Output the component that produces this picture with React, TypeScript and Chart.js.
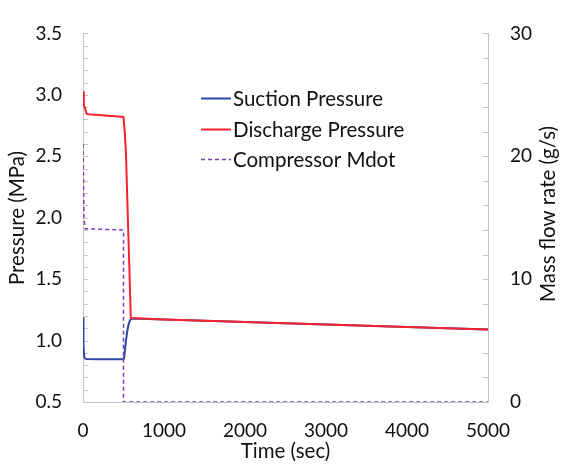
import React, { useEffect, useRef } from 'react';
import { Chart, registerables } from 'chart.js';

Chart.register(...registerables);

// ---- data ----
const suctionTime = [0, 6, 16, 40, 200, 500, 510, 528, 545, 560, 580, 600, 1000, 2000, 3000, 4000, 5000];
const suctionPressure = [1.19, 0.95, 0.86, 0.85, 0.848, 0.848, 0.87, 0.985, 1.07, 1.125, 1.165, 1.18, 1.172, 1.151, 1.131, 1.11, 1.09];

const dischargeTime = [0, 10, 45, 100, 200, 300, 400, 500, 515, 530, 560, 590, 600, 1000, 2000, 3000, 4000, 5000];
const dischargePressure = [3.03, 2.92, 2.845, 2.84, 2.835, 2.83, 2.825, 2.82, 2.7, 2.53, 1.86, 1.19, 1.183, 1.172, 1.151, 1.131, 1.11, 1.09];

const mdotTime = [0, 12, 25, 500, 500, 5000];
const mdotValue = [21, 15, 14.1, 14.0, 0, 0];

const seriesNames = ['Suction Pressure', 'Discharge Pressure', 'Compressor Mdot'];
const xTitle = 'Time (sec)';
const yTitle = 'Pressure (MPa)';
const y2Title = 'Mass flow rate (g/s)';

const FONT = 'Lato';
const TICK_SIZE = 19;
const TEXT_SIZE = 20.5;
const TEXT = '#111111';
const AXIS = '#c4c4c4';

const decorPlugin = {
  id: 'decor',
  beforeDatasetsDraw(chart: any) {
    const { ctx, chartArea, scales } = chart;
    const y = scales.y;
    const y2 = scales.y2;
    ctx.save();
    ctx.strokeStyle = AXIS;
    ctx.lineWidth = 1;
    ctx.beginPath();
    for (let v = 5; v <= 35; v++) {
      const py = Math.round(y.getPixelForValue(v / 10)) + 0.5;
      ctx.moveTo(chartArea.left, py);
      ctx.lineTo(chartArea.left + 5, py);
    }
    for (let v = 0; v <= 30; v += 2) {
      const py = Math.round(y2.getPixelForValue(v)) + 0.5;
      ctx.moveTo(chartArea.right, py);
      ctx.lineTo(chartArea.right - 5, py);
    }
    ctx.stroke();
    ctx.restore();
  },
  afterDraw(chart: any) {
    const { ctx } = chart;
    ctx.save();
    ctx.font = `${TEXT_SIZE}px ${FONT}`;
    ctx.fillStyle = TEXT;
    ctx.textBaseline = 'middle';
    // legend
    const rows = [98, 129, 159];
    chart.data.datasets.forEach((ds: any, i: number) => {
      const ry = rows[i];
      ctx.save();
      ctx.strokeStyle = ds.borderColor;
      ctx.lineWidth = ds.borderDash ? 1.5 : 2;
      ctx.setLineDash(ds.borderDash || []);
      ctx.beginPath();
      ctx.moveTo(201, ry + 0.5);
      ctx.lineTo(231, ry + 0.5);
      ctx.stroke();
      ctx.restore();
      ctx.textAlign = 'left';
      ctx.fillText(ds.label, 233, ry + 1);
    });
    // axis titles (both read bottom-to-top)
    ctx.textAlign = 'center';
    ctx.save();
    ctx.translate(17, 218);
    ctx.rotate(-Math.PI / 2);
    ctx.fillText(yTitle, 0, 0);
    ctx.restore();
    ctx.save();
    ctx.translate(548, 214);
    ctx.rotate(-Math.PI / 2);
    ctx.fillText(y2Title, 0, 0);
    ctx.restore();
    ctx.restore();
  },
};

export default function App() {
  const ref = useRef<HTMLCanvasElement>(null);
  useEffect(() => {
    if (!ref.current) return;
    const font = { family: FONT, size: TICK_SIZE };
    const chart = new Chart(ref.current, {
      type: 'line',
      data: {
        datasets: [
          {
            label: seriesNames[0],
            data: suctionTime.map((t, i) => ({ x: t, y: suctionPressure[i] })),
            borderColor: '#2f45a5',
            borderWidth: 2,
            pointRadius: 0,
            yAxisID: 'y',
            order: 3,
          },
          {
            label: seriesNames[1],
            data: dischargeTime.map((t, i) => ({ x: t, y: dischargePressure[i] })),
            borderColor: '#f5222d',
            borderWidth: 2,
            pointRadius: 0,
            yAxisID: 'y',
            order: 2,
          },
          {
            label: seriesNames[2],
            data: mdotTime.map((t, i) => ({ x: t, y: mdotValue[i] })),
            borderColor: '#7a3fb5',
            borderWidth: 1.5,
            borderDash: [4, 3],
            pointRadius: 0,
            yAxisID: 'y2',
            order: 1,
          },
        ],
      },
      options: {
        responsive: false,
        animation: false,
        events: [],
        layout: { padding: { top: 19, left: 0, right: 0, bottom: 0 } },
        plugins: { legend: { display: false }, tooltip: { enabled: false } },
        scales: {
          x: {
            type: 'linear',
            min: 0,
            max: 5000,
            ticks: { stepSize: 1000, font, color: TEXT, padding: 17, maxRotation: 0, callback: (v: any) => String(v) },
            grid: { display: false, drawTicks: false },
            border: { display: true, color: AXIS, width: 1 },
            title: { display: true, text: xTitle, font: { family: FONT, size: TEXT_SIZE }, color: TEXT, padding: { top: 0, bottom: 6 } },
            afterFit: (s: any) => { s.height = 68; },
          },
          y: {
            type: 'linear',
            position: 'left',
            min: 0.5,
            max: 3.5,
            ticks: { stepSize: 0.5, font, color: TEXT, padding: 21, callback: (v: any) => Number(v).toFixed(1) },
            grid: { display: false, drawTicks: false },
            border: { display: true, color: AXIS, width: 1 },
            afterFit: (s: any) => { s.width = 83; },
          },
          y2: {
            type: 'linear',
            position: 'right',
            min: 0,
            max: 30,
            ticks: { stepSize: 10, font, color: TEXT, padding: 22 },
            grid: { display: false, drawTicks: false },
            border: { display: true, color: AXIS, width: 1 },
            afterFit: (s: any) => { s.width = 76; },
          },
        },
      },
      plugins: [decorPlugin],
    });
    return () => chart.destroy();
  }, []);
  return (
    <div style={{ position: 'absolute', left: 0, top: 0, width: 564, height: 470, background: '#fff' }}>
      <canvas ref={ref} width={564} height={470} />
    </div>
  );
}
